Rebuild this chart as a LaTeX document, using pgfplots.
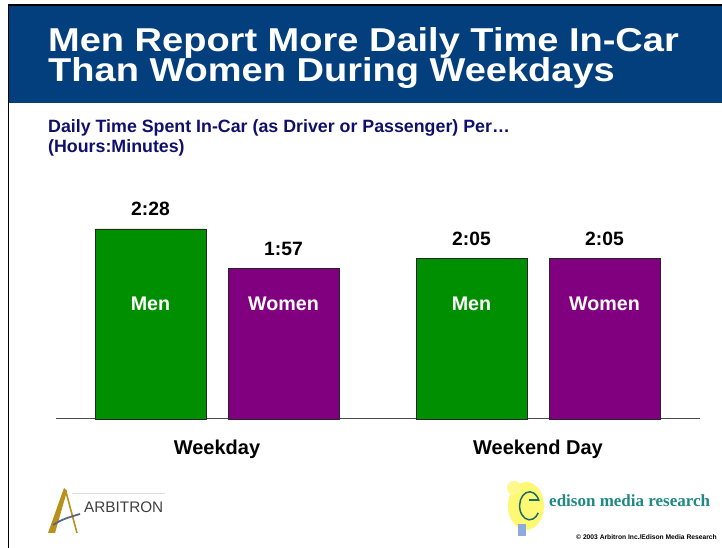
\documentclass[border=0pt]{standalone}
\usepackage{pgfplots}
\pgfplotsset{compat=1.18}
\usepackage{pgfplotstable}
\usepackage{fontspec}
\setmainfont{Liberation Sans}
\newfontfamily\seriffont{Liberation Serif}
\definecolor{banner}{HTML}{033F7D}
\definecolor{mgreen}{HTML}{008F00}
\definecolor{wpurple}{HTML}{800080}
\definecolor{subnavy}{HTML}{10106B}
\definecolor{gold}{HTML}{B8901A}
\definecolor{slate}{HTML}{5A6488}
\definecolor{edteal}{HTML}{1F8A84}
\pgfplotstableread{
x y lab
150.5 148 2:28
471.5 125 2:05
}\mentab
\pgfplotstableread{
x y lab
283.5 117 1:57
604.5 125 2:05
}\womentab
\begin{document}
\begin{tikzpicture}[x=1pt,y=1pt]
\path[use as bounding box, clip] (0,0) rectangle (722,548);
\fill[white] (0,0) rectangle (722,548);
\fill[banner] (9,445) rectangle (722,542);
\draw[black, line width=1.5pt] (8.25,0) -- (8.25,542.75) -- (722,542.75);
\node[anchor=base west, inner sep=0, text=white, font=\fontsize{38}{38}\selectfont\bfseries] at (48,496.5) {\scalebox{1}[0.87]{Men Report More Daily Time In-Car}};
\node[anchor=base west, inner sep=0, text=white, font=\fontsize{38}{38}\selectfont\bfseries] at (48,466) {\scalebox{1}[0.87]{Than Women During Weekdays}};
\node[anchor=base west, inner sep=0, text=subnavy, font=\fontsize{17.8}{18}\selectfont\bfseries] at (48,415) {Daily Time Spent In-Car (as Driver or Passenger) Per…};
\node[anchor=base west, inner sep=0, text=subnavy, font=\fontsize{17.8}{18}\selectfont\bfseries] at (48,395) {(Hours:Minutes)};
\begin{axis}[
  at={(56pt,129pt)}, anchor=south west,
  width=644pt, height=256.76pt, scale only axis,
  xmin=56, xmax=700, ymin=0, ymax=200,
  axis y line=none, axis x line=bottom,
  axis line style={-, draw=black!70, line width=1pt},
  xtick={217,538}, xticklabels={Weekday,Weekend Day},
  major tick length=0pt,
  xticklabel style={font=\fontsize{20}{20}\selectfont\bfseries, anchor=base, yshift=-36pt, inner sep=0pt},
  clip=false,
]
\addplot[ybar, bar width=111pt, bar shift=0pt, fill=mgreen, draw=black!85, line width=0.8pt,
  nodes near coords, point meta=explicit symbolic,
  nodes near coords style={anchor=base, yshift=13pt, inner sep=0pt, text=black, font=\fontsize{19.3}{19.3}\selectfont\bfseries}]
  table[x=x, y=y, meta=lab] {\mentab};
\addplot[ybar, bar width=111pt, bar shift=0pt, fill=wpurple, draw=black!85, line width=0.8pt,
  nodes near coords, point meta=explicit symbolic,
  nodes near coords style={anchor=base, yshift=13pt, inner sep=0pt, text=black, font=\fontsize{19.3}{19.3}\selectfont\bfseries}]
  table[x=x, y=y, meta=lab] {\womentab};
\node[anchor=base, text=white, inner sep=0pt, font=\fontsize{19.7}{19.7}\selectfont\bfseries] at (axis cs:150.5,84.5) {Men};
\node[anchor=base, text=white, inner sep=0pt, font=\fontsize{19.7}{19.7}\selectfont\bfseries] at (axis cs:283.5,84.5) {Women};
\node[anchor=base, text=white, inner sep=0pt, font=\fontsize{19.7}{19.7}\selectfont\bfseries] at (axis cs:471.5,84.5) {Men};
\node[anchor=base, text=white, inner sep=0pt, font=\fontsize{19.7}{19.7}\selectfont\bfseries] at (axis cs:604.5,84.5) {Women};
\end{axis}
% Arbitron logo
\fill[gold] (48,15) -- (55,15) -- (67,57) -- (64,60) -- cycle;
\draw[gold, line width=1.6pt] (65.5,58) -- (77,15);
\draw[slate, line width=1.8pt] (53,23) .. controls (62,29) and (70,31) .. (80,34);
\draw[black!12, line width=0.6pt] (72,55) -- (165,55);
\node[anchor=base west, inner sep=0, text=black!75, font=\fontsize{15.3}{15}\selectfont] at (84,35) {ARBITRON};
% Edison logo
\fill[yellow!55!white] (526,42) ellipse (18 and 24);
\fill[yellow!45!white] (514,60) circle (7);
\draw[edteal!80!black, line width=1.5pt] (539,47) arc (20:330:10 and 14);
\draw[edteal!80!black, line width=1.4pt] (529,48) -- (539,48);
\fill[cyan!45!blue!45] (518,12) rectangle (526,24);
\node[anchor=base west, inner sep=0, text=edteal, font=\fontsize{17}{17}\selectfont\seriffont\bfseries] at (549,41) {edison media research};
\node[anchor=base west, inner sep=0, text=black, font=\fontsize{6.7}{6.7}\selectfont\bfseries] at (576,8.5) {© 2003 Arbitron Inc./Edison Media Research};
\end{tikzpicture}
\end{document}
